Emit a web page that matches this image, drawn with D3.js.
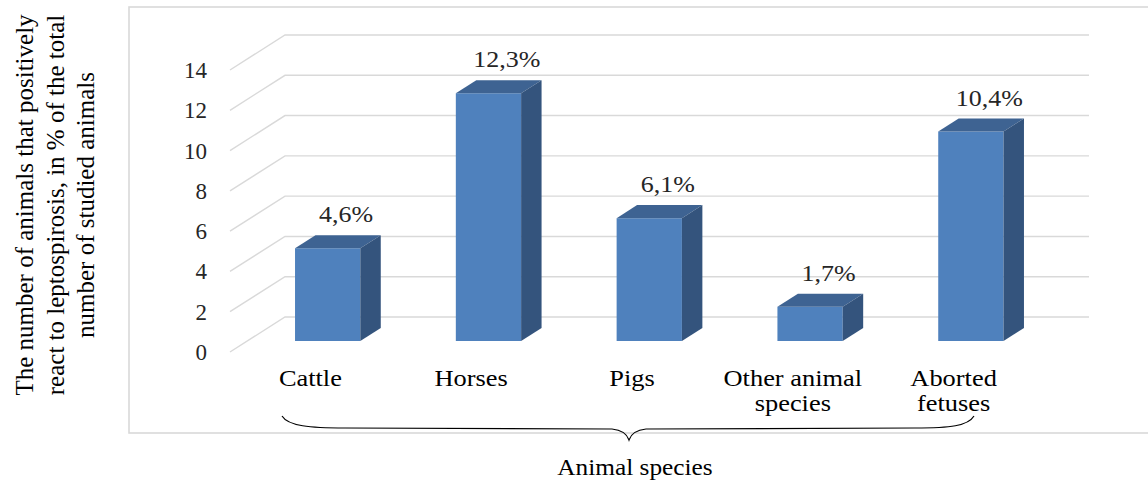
<!DOCTYPE html>
<html>
<head>
<meta charset="utf-8">
<script src="https://cdn.jsdelivr.net/npm/d3@7"></script>
<style>
  html, body { margin: 0; padding: 0; background: #ffffff; }
  svg { display: block; font-family: "Liberation Serif", "Times New Roman", serif; }
</style>
</head>
<body>
<svg id="chart" width="1148" height="482"></svg>
<script>
// Share of animals reacting positively to leptospirosis, by species
const categories = ["Cattle", "Horses", "Pigs", "Other animal species", "Aborted fetuses"];
const categoryLines = [["Cattle"], ["Horses"], ["Pigs"], ["Other animal", "species"], ["Aborted", "fetuses"]];
const values = [4.6, 12.3, 6.1, 1.7, 10.4];
const yTicks = [0, 2, 4, 6, 8, 10, 12, 14];
const yTitleLines = [
  "The number of animals that positively",
  "react to leptospirosis, in % of the total",
  "number of studied animals"
];
const xTitle = "Animal species";

const svg = d3.select("#chart");

// 3-D layout: front plane of the plot plus an oblique depth offset
const depthX = 55, depthY = 35;
const barFront = 0.314, barBack = 0.686;

const x = d3.scaleBand()
  .domain(categories)
  .range([230, 1034])
  .paddingInner(0.594)
  .paddingOuter(0.297);

const y = d3.scaleLinear().domain([0, 14]).range([352, 70]);

const proj = (px, v, d) => [px + d * depthX, y(v) - d * depthY];
const poly = pts => "M" + pts.map(p => p.join(",")).join("L") + "Z";

// chart frame
svg.append("rect")
  .attr("x", 129).attr("y", 7)
  .attr("width", 1040).attr("height", 426)
  .attr("fill", "none")
  .attr("stroke", "#d9d9d9")
  .attr("stroke-width", 1.6);

// gridlines: side-wall diagonal then back-wall horizontal
const [xL, xR] = x.range();
svg.append("g").selectAll("path")
  .data(yTicks)
  .join("path")
  .attr("d", t => {
    const a = proj(xL, t, 0), b = proj(xL, t, 1), c = proj(xR, t, 1);
    return `M${a}L${b}L${c}`;
  })
  .attr("fill", "none")
  .attr("stroke", "#d9d9d9")
  .attr("stroke-width", 1.4);

// y tick labels
svg.append("g").selectAll("text")
  .data(yTicks)
  .join("text")
  .attr("x", 207)
  .attr("y", t => y(t) + 8)
  .attr("text-anchor", "end")
  .attr("font-size", 23)
  .attr("fill", "#262626")
  .text(d => d);

// bars
const bars = svg.append("g").selectAll("g")
  .data(categories.map((c, i) => ({ c, v: values[i] })))
  .join("g");

bars.append("path") // front face
  .attr("d", d => {
    const x0 = x(d.c), x1 = x0 + x.bandwidth();
    return poly([proj(x0, 0, barFront), proj(x0, d.v, barFront), proj(x1, d.v, barFront), proj(x1, 0, barFront)]);
  })
  .attr("fill", "#4f81bd");

bars.append("path") // top face
  .attr("d", d => {
    const x0 = x(d.c), x1 = x0 + x.bandwidth();
    return poly([proj(x0, d.v, barFront), proj(x1, d.v, barFront), proj(x1, d.v, barBack), proj(x0, d.v, barBack)]);
  })
  .attr("fill", "#3e6392");

bars.append("path") // right side face
  .attr("d", d => {
    const x1 = x(d.c) + x.bandwidth();
    return poly([proj(x1, 0, barFront), proj(x1, d.v, barFront), proj(x1, d.v, barBack), proj(x1, 0, barBack)]);
  })
  .attr("fill", "#34547d");

// value labels above each bar
const fmt = v => d3.format(".1f")(v).replace(".", ",") + "%";
bars.append("text")
  .attr("transform", d => {
    const x0 = x(d.c), x1 = x0 + x.bandwidth();
    const p = proj((x0 + x1) / 2, d.v, barBack);
    return `translate(${p[0] - 2},${p[1] - 13}) scale(1.13,1)`;
  })
  .attr("text-anchor", "middle")
  .attr("font-size", 23)
  .attr("fill", "#262626")
  .text(d => fmt(d.v));

// category labels
const catG = svg.append("g").selectAll("g")
  .data(categories.map((c, i) => ({ c, lines: categoryLines[i] })))
  .join("g");
catG.selectAll("text")
  .data(d => d.lines.map((t, j) => ({ t, j, cx: x(d.c) + x.bandwidth() / 2 })))
  .join("text")
  .attr("transform", d => `translate(${d.cx},${386 + d.j * 25}) scale(1.1,1)`)
  .attr("text-anchor", "middle")
  .attr("font-size", 24)
  .attr("fill", "#000")
  .text(d => d.t);

// curly brace grouping the categories
svg.append("path")
  .attr("d", "M282,416 C288,426 310,428 345,428 L612,429 C622,430 627,434 629,440 C631,434 636,430 646,429 L915,428 C950,428 968,426 974,416")
  .attr("fill", "none")
  .attr("stroke", "#000")
  .attr("stroke-width", 1.2);

// x-axis title
svg.append("text")
  .attr("transform", "translate(635,475) scale(1.055,1)")
  .attr("text-anchor", "middle")
  .attr("font-size", 24)
  .attr("fill", "#000")
  .text(xTitle);

// y-axis title (rotated, three lines)
svg.append("g").selectAll("text")
  .data(yTitleLines)
  .join("text")
  .attr("transform", (d, i) => `translate(${33 + i * 30.5},205) rotate(-90)`)
  .attr("text-anchor", "middle")
  .attr("font-size", 25)
  .attr("fill", "#000")
  .text(d => d);
</script>
</body>
</html>
